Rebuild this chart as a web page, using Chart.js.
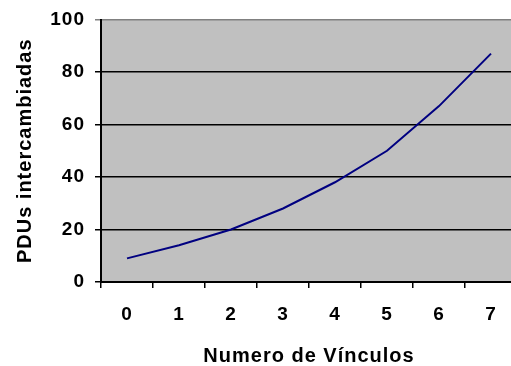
<!DOCTYPE html>
<html>
<head>
<meta charset="utf-8">
<script src="https://cdn.jsdelivr.net/npm/chart.js@4/dist/chart.umd.min.js"></script>
<style>
  html, body { margin: 0; padding: 0; background: #fff; overflow: hidden; }
  #wrap { position: relative; width: 530px; height: 366px; }
</style>
</head>
<body>
<div id="wrap"><canvas id="c"></canvas></div>
<script>
// Number of links vs. exchanged PDUs
const categories = ['0', '1', '2', '3', '4', '5', '6', '7'];
const pduValues = [9, 14, 20, 28, 38, 50, 67, 87];
const yTicks = [0, 20, 40, 60, 80, 100];

const FONT = "'Liberation Sans', Arial, sans-serif";

// grey plot background and slightly wider glyph spacing
const plotStyle = {
  id: 'plotStyle',
  beforeUpdate(chart) { chart.ctx.letterSpacing = '1px'; },
  beforeDraw(chart) {
    const { ctx, chartArea: a } = chart;
    ctx.letterSpacing = '1px';
    ctx.save();
    ctx.fillStyle = '#C0C0C0';
    ctx.fillRect(a.left, a.top, a.right - a.left, a.bottom - a.top);
    ctx.restore();
  }
};

new Chart(document.getElementById('c'), {
  type: 'line',
  data: {
    labels: categories,
    datasets: [{
      data: pduValues,
      borderColor: '#000080',
      borderWidth: 2,
      pointRadius: 0,
      tension: 0,
      fill: false
    }]
  },
  options: {
    responsive: true,
    maintainAspectRatio: false,
    animation: false,
    layout: { padding: { top: 15, right: 13, bottom: 0, left: 0 } },
    plugins: { legend: { display: false }, tooltip: { enabled: false } },
    scales: {
      x: {
        offset: true,
        grid: {
          offset: true,
          drawOnChartArea: false,
          drawTicks: true,
          tickLength: 6,
          color: '#000',
          lineWidth: 1.5
        },
        border: { color: '#000', width: 2 },
        ticks: {
          color: '#000',
          padding: 17,
          maxRotation: 0,
          font: { family: FONT, size: 19, weight: 'bold', lineHeight: 1 }
        },
        title: {
          display: true,
          text: 'Numero de Vínculos',
          color: '#000',
          padding: { top: 8, bottom: -2 },
          font: { family: FONT, size: 20, weight: 'bold' }
        },
        afterFit(scale) { scale.height = 84; }
      },
      y: {
        min: 0,
        max: 100,
        afterBuildTicks(scale) { scale.ticks = yTicks.map(v => ({ value: v })); },
        grid: {
          drawTicks: true,
          tickLength: 6,
          color: ctx => (ctx.tick && ctx.tick.value === 100 ? '#808080' : '#000'),
          lineWidth: 1.5
        },
        border: { color: '#000', width: 2 },
        ticks: {
          color: '#000',
          padding: 10,
          font: { family: FONT, size: 19, weight: 'bold', lineHeight: 1 }
        },
        title: {
          display: true,
          text: 'PDUs intercambiadas',
          color: '#000',
          padding: { top: 13, bottom: 4 },
          font: { family: FONT, size: 20, weight: 'bold' }
        },
        afterFit(scale) { scale.width = 101; }
      }
    }
  },
  plugins: [plotStyle]
});
</script>
</body>
</html>
